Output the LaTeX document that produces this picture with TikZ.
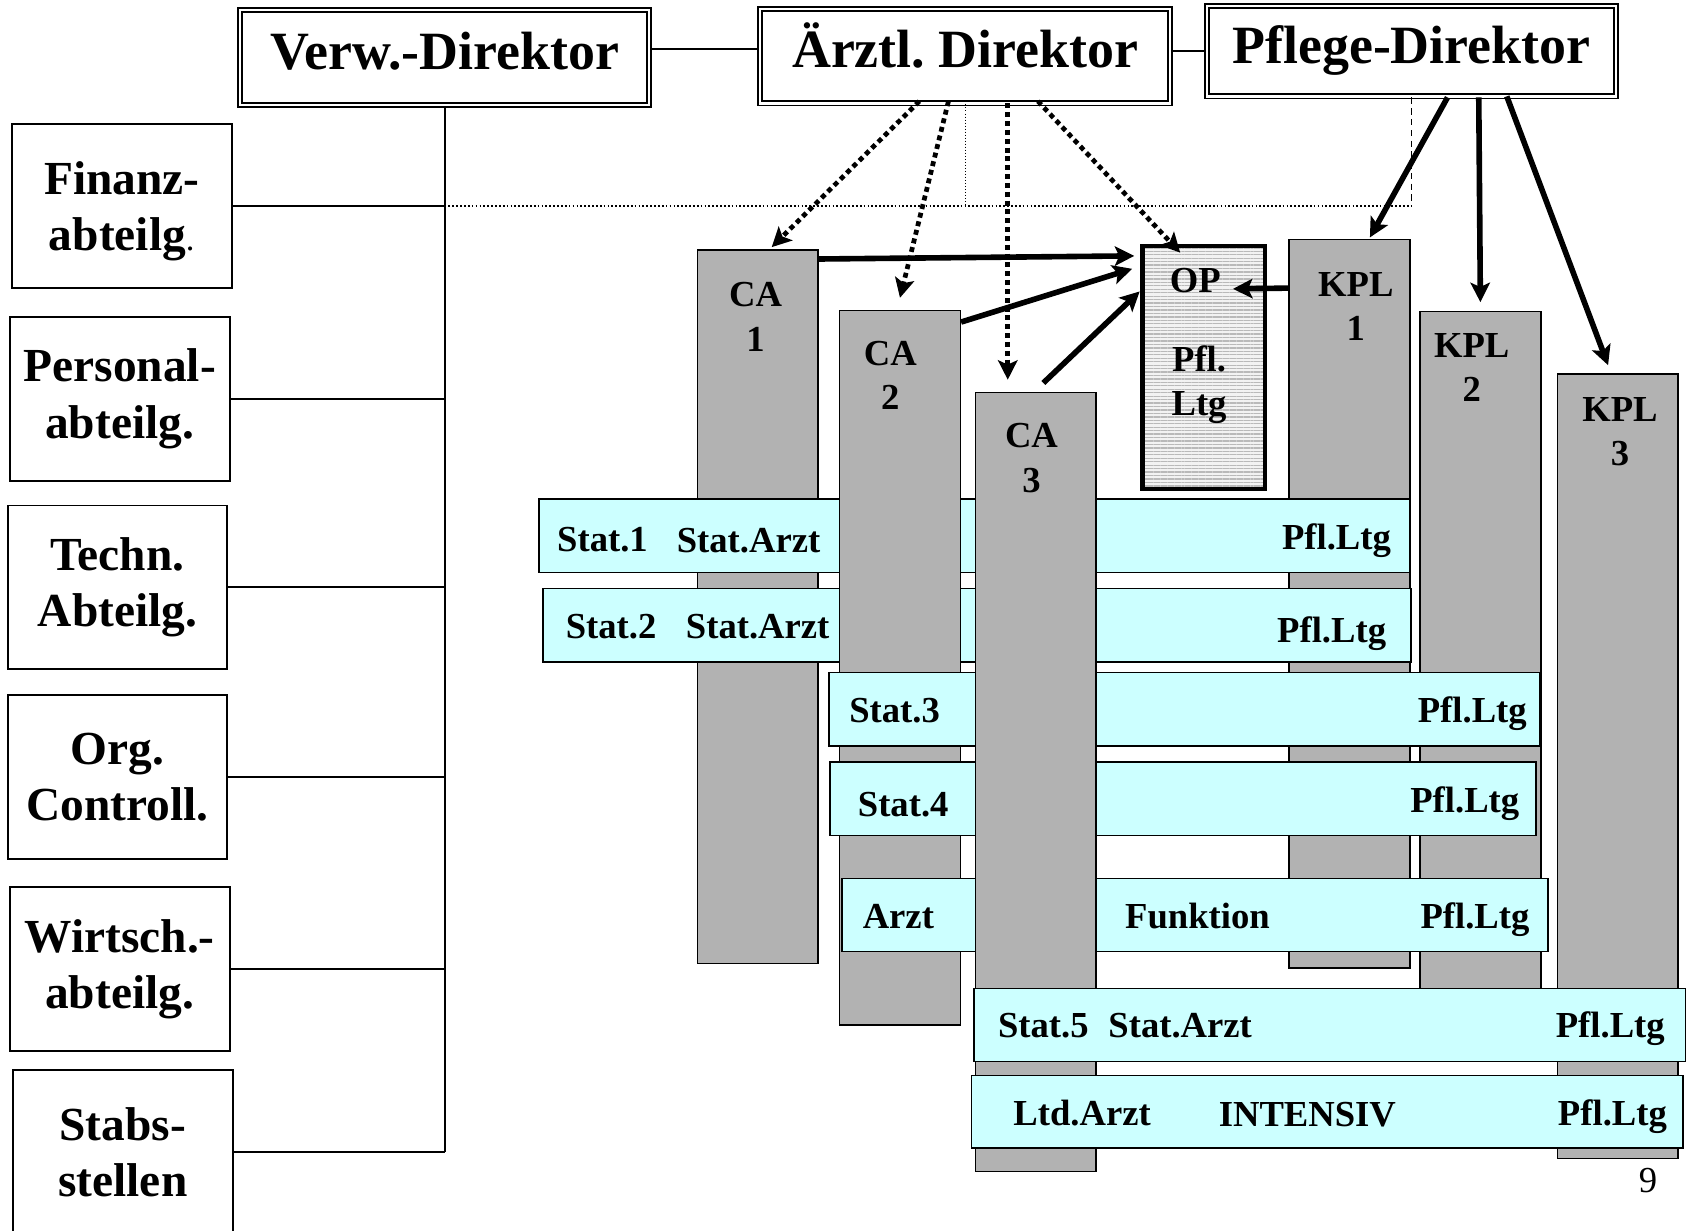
\documentclass[tikz,border=0pt]{standalone}
\usepackage{fontspec}
\setmainfont{Liberation Serif}
\usetikzlibrary{arrows.meta,calc,patterns.meta}

\definecolor{bargray}{RGB}{178,178,178}
\definecolor{statcyan}{RGB}{204,255,255}
\frenchspacing

\begin{document}
\begin{tikzpicture}[
  x=0.5pt,y=-0.5pt,
  director/.style={draw,line width=.9pt,double,double distance=1pt,minimum width=190pt,minimum height=44pt,
    font=\fontsize{25}{29}\selectfont\bfseries,text height=16pt,text depth=5pt},
  dept/.style={draw,line width=.9pt,minimum width=102pt,minimum height=76pt,inner sep=2pt,align=center,
    font=\fontsize{22}{26}\selectfont\bfseries},
  pillar/.style={draw,fill=bargray,line width=.7pt,minimum width=56pt,inner sep=0pt},
  station/.style={draw,fill=statcyan,line width=.7pt,minimum height=34pt,inner sep=0pt},
  lbl/.style={align=center,inner sep=0pt,font=\fontsize{17}{20.5}\selectfont\bfseries},
  rowtext/.style={anchor=base,inner sep=0pt,font=\fontsize{17}{20}\selectfont\bfseries},
  link/.style={line width=.9pt},
  guide/.style={densely dotted,line width=.8pt},
  lead/.style={line width=2.6pt,-{Stealth[length=9pt,width=9pt,inset=2pt]}},
  hint/.style={lead,line width=2.2pt,dash pattern=on 2.3pt off 1.8pt}
]
  \useasboundingbox (0,0) rectangle (1568,1142);
  \clip (0,0) rectangle (1568,1142);

  % Direktorium
  \node[director] (verw) at (412.5,53.5) {Verw.-Direktor};
  \node[director] (arzt) at (895.5,52) {Ärztl. Direktor};
  \node[director,minimum height=42pt] (pflege) at (1309.5,47.5) {Pflege-Direktor};
  \draw[link] ($(verw.east)+(0,-8)$) -- ($(verw.east -| arzt.west)+(0,-8)$);
  \draw[link] (arzt.east |- pflege.west) -- (pflege.west);

  % Verwaltung
  \node[dept] (finanz) at (113,191) {\rule{0pt}{20pt}Finanz-\\abteilg{\mdseries\fontsize{16}{16}\selectfont.}};
  \node[dept] (personal) at (111,370) {Personal-\\abteilg.};
  \node[dept] (techn) at (109,545) {Techn.\\Abteilg.};
  \node[dept] (org) at (109,721) {Org.\\Controll.};
  \node[dept] (wirtsch) at (111,899) {Wirtsch.-\\abteilg.};
  \node[dept] (stabs) at (114,1069) {Stabs-\\stellen};
  \draw[link] (verw.south) -- (verw.south |- stabs.east);
  \foreach \d in {finanz,personal,techn,org,wirtsch,stabs}
    \draw[link] (\d.east) -- (\d.east -| verw.south);

  \draw[guide] (verw.south |- finanz.east) -- (pflege.south |- finanz.east);
  \draw[densely dashed,line width=.4pt] (pflege.south) -- (pflege.south |- finanz.east);
  \draw[densely dotted,line width=.4pt] (arzt.south) -- (arzt.south |- finanz.east);

  % Chefaerzte und Pflege
  \node[pillar,minimum height=331pt] (ca1) at (703,563) {};
  \node[pillar,minimum height=338pt] (kpl1) at (1252,560) {};
  \node[pillar,minimum height=330.5pt] (kpl2) at (1373.5,619.5) {};
  \node[pillar,minimum height=364pt] (kpl3) at (1501,711) {};

  \node[station,minimum width=404pt] (stat1) at (904,497) {};
  \node[rowtext] (s1nr) at (559,512) {Stat.1};
  \node[rowtext] (s1arzt) at (694.5,513) {Stat.Arzt};
  \node[rowtext] (s1pfl) at (1240,510) {Pfl.Ltg};
  \node[station,minimum width=402.5pt] (stat2) at (906.5,580) {};
  \node[rowtext] (s2nr) at (567,592) {Stat.2};
  \node[rowtext] (s2arzt) at (703,592) {Stat.Arzt};
  \node[rowtext] (s2pfl) at (1235.5,596.5) {Pfl.Ltg};

  \node[pillar,minimum height=331.5pt] (ca2) at (835,619.5) {};

  \node[station,minimum width=330pt] (stat3) at (1099,658) {};
  \node[rowtext] (s3nr) at (830,670) {Stat.3};
  \node[rowtext] (s3pfl) at (1366,670) {Pfl.Ltg};
  \node[station,minimum width=327.5pt] (stat4) at (1097.5,741) {};
  \node[rowtext] (s4nr) at (838,758) {Stat.4};
  \node[rowtext] (s4pfl) at (1359,754) {Pfl.Ltg};
  \node[station,minimum width=327.5pt] (funk) at (1108.5,849) {};
  \node[rowtext] (farzt) at (833.5,861) {Arzt};
  \node[rowtext] (fname) at (1111,861) {Funktion};
  \node[rowtext] (fpfl) at (1368.5,861) {Pfl.Ltg};

  \node[pillar,minimum height=361.5pt] (ca3) at (961,725.5) {};

  \node[station,minimum width=330.25pt] (stat5) at (1233.75,951) {};
  \node[rowtext] (s5nr) at (968,963) {Stat.5};
  \node[rowtext] (s5arzt) at (1095,963) {Stat.Arzt};
  \node[rowtext] (s5pfl) at (1494,963) {Pfl.Ltg};
  \node[station,minimum width=330pt,minimum height=33.5pt] (intens) at (1231.5,1031.5) {};
  \node[rowtext] (iarzt) at (1004,1044) {Ltd.Arzt};
  \node[rowtext] (iname) at (1213,1045.5) {INTENSIV};
  \node[rowtext] (ipfl) at (1496,1044) {Pfl.Ltg};

  \node[lbl] (ca1t) at (701,294) {CA\\1};
  \node[lbl] (ca2t) at (826,348) {CA\\2};
  \node[lbl] (ca3t) at (957,425) {CA\\3};
  \node[lbl] (kpl1t) at (1258,284) {KPL\\1};
  \node[lbl] (kpl2t) at (1365.5,341) {KPL\\2};
  \node[lbl] (kpl3t) at (1503,400.5) {KPL\\3};

  % OP
  \node[draw,line width=1.9pt,minimum width=57pt,minimum height=113pt,preaction={fill=gray!10},
    pattern={Lines[angle=0,distance=1.6pt,line width=.6pt]},pattern color=gray!55] (op) at (1117,341) {};
  \node[rowtext] (optxt) at (1109,271) {OP};
  \node[lbl] (oppfl) at (1112.5,357) {Pfl.\\Ltg};

  % Weisungen
  \draw[hint] ($(arzt.south)+(-42.5,-3)$) -- ($(ca1.north)+(13,-2)$);
  \draw[hint] ($(arzt.south)+(-15.5,-3)$) -- ($(ca2.north)+(0,-11)$);
  \draw[hint] ($(arzt.south)+(39.5,-1)$) -- ($(ca3.north)+(-26,-11)$);
  \draw[hint] ($(arzt.south)+(67.5,-3)$) -- ($(op.north)+(-22,7)$);

  \draw[lead] ($(pflege.south)+(33.5,0)$) -- ($(kpl1.north)+(19,-1)$);
  \draw[lead] ($(pflege.south)+(62.5,0)$) -- ($(kpl2.north)+(0,-8)$);
  \draw[lead] ($(pflege.south)+(88.5,-1)$) -- ($(kpl3.north)+(-9,-7.5)$);

  \draw[lead] ($(ca1.north east)+(0,9)$) -- ($(op.north west)+(-7,10)$);
  \draw[lead] ($(ca2.north east)+(0,11.5)$) -- ($(op.north west)+(-9,22)$);
  \draw[lead] ($(ca3.north)+(7,-8)$) -- ($(op.north west)+(-2,43)$);
  \draw[lead] ($(kpl1.north west)+(0,46)$) -- ($(optxt.base east)+(11,-3)$);

  \node[font=\fontsize{17}{20}\selectfont] (page) at (1529,1095) {9};
\end{tikzpicture}
\end{document}
